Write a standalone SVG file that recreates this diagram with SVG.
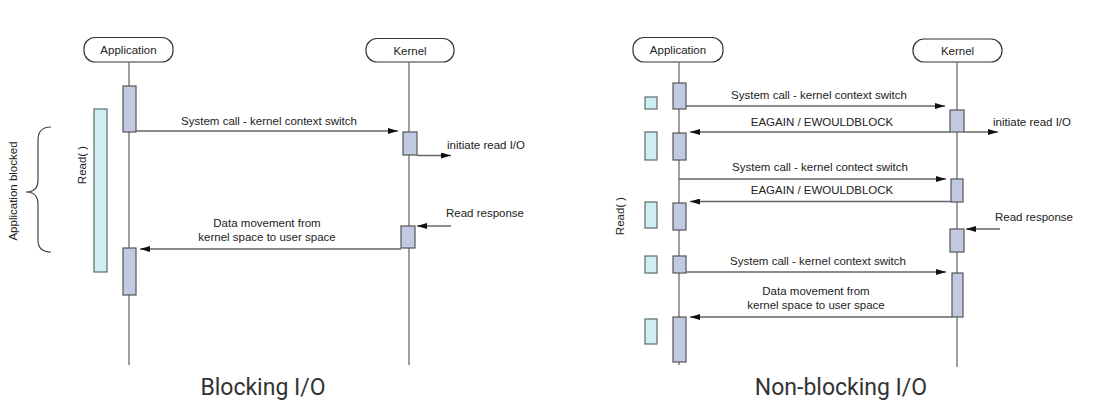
<svg xmlns="http://www.w3.org/2000/svg" width="1094" height="409" viewBox="0 0 1094 409">
<style>
text{font-family:"Liberation Sans",Arial,sans-serif;font-size:11.5px;fill:#222}
.title{font-family:Roboto,"Liberation Sans",sans-serif;font-size:23px;fill:#333}
.head{fill:#fff;stroke:#333;stroke-width:1.2}
.life{stroke:#777;stroke-width:1.4;fill:none}
.act{fill:#c2cae3;stroke:#555;stroke-width:1.2}
.blk{fill:#cdeef2;stroke:#5d6b6b;stroke-width:1.2}
.msg{stroke:#666;stroke-width:1.3;fill:none;marker-end:url(#ah)}
.mid{text-anchor:middle}
</style>
<defs>
<marker id="ah" viewBox="0 0 10 6" refX="10" refY="3" markerWidth="10" markerHeight="6" markerUnits="userSpaceOnUse" orient="auto">
<path d="M0,0 L10,3 L0,6 z" fill="#111"/>
</marker>
</defs>

<!-- Blocking I/O -->
<g id="b-app">
<rect class="head" x="84" y="37.5" width="89" height="24.5" rx="11"/>
<text class="mid" x="128.5" y="54">Application</text>
<line class="life" x1="129" y1="62" x2="129" y2="365"/>
</g>
<g id="b-kernel">
<rect class="head" x="366" y="38.5" width="88" height="23.5" rx="11"/>
<text class="mid" x="410" y="54.5">Kernel</text>
<line class="life" x1="409" y1="62" x2="409" y2="365"/>
</g>
<g id="b-read">
<rect class="blk" x="94" y="109" width="13" height="163"/>
<text transform="translate(86,165) rotate(-90)" class="mid">Read( )</text>
</g>
<g id="b-blocked">
<path d="M51,127 Q38,127 38,140 L38,180 Q38,192 26,192 Q38,192 38,204 L38,240 Q38,252 51,252" fill="none" stroke="#444" stroke-width="1.2"/>
<text transform="translate(17,191) rotate(-90)" class="mid">Application blocked</text>
</g>
<g id="b-acts">
<rect class="act" x="123" y="86" width="13" height="46"/>
<rect class="act" x="123" y="248" width="13" height="47"/>
<rect class="act" x="403" y="132" width="14" height="23"/>
<rect class="act" x="401" y="226" width="14" height="22"/>
</g>
<g id="b-connectors">
<line class="msg" x1="136" y1="131" x2="398" y2="131"/>
<line class="msg" x1="417" y1="155.5" x2="451" y2="155.5"/>
<line class="msg" x1="451" y1="226" x2="417" y2="226"/>
<line class="msg" x1="401" y1="249" x2="140" y2="249"/>
</g>
<g id="b-labels">
<text class="mid" x="269" y="125">System call - kernel context switch</text>
<text x="447" y="149">initiate read I/O</text>
<text x="446" y="217">Read response</text>
<text class="mid" x="267" y="227">Data movement from</text>
<text class="mid" x="267" y="241">kernel space to user space</text>
</g>
<text class="title mid" x="263" y="395">Blocking I/O</text>

<!-- Non-blocking I/O -->
<g id="n-app">
<rect class="head" x="633" y="37.5" width="90" height="24.5" rx="11"/>
<text class="mid" x="678" y="54">Application</text>
<line class="life" x1="679" y1="62" x2="679" y2="365"/>
</g>
<g id="n-kernel">
<rect class="head" x="913" y="39" width="89" height="23" rx="11"/>
<text class="mid" x="957.5" y="54.5">Kernel</text>
<line class="life" x1="957" y1="62" x2="957" y2="367"/>
</g>
<g id="n-read">
<rect class="blk" x="645" y="97" width="12" height="12"/>
<rect class="blk" x="645" y="132" width="12" height="28"/>
<rect class="blk" x="645" y="202" width="12" height="26"/>
<rect class="blk" x="645" y="256" width="12" height="17"/>
<rect class="blk" x="645" y="319" width="12" height="25"/>
<text transform="translate(624,216) rotate(-90)" class="mid">Read( )</text>
</g>
<g id="n-acts">
<rect class="act" x="673" y="83" width="13" height="26"/>
<rect class="act" x="673" y="133" width="13" height="27"/>
<rect class="act" x="673" y="203" width="13" height="27"/>
<rect class="act" x="673" y="256" width="13" height="17"/>
<rect class="act" x="673" y="317" width="13" height="45"/>
<rect class="act" x="950" y="110" width="14" height="22"/>
<rect class="act" x="951" y="179" width="12" height="23"/>
<rect class="act" x="950" y="229" width="14" height="23"/>
<rect class="act" x="952" y="273" width="11" height="44"/>
</g>
<g id="n-connectors">
<line class="msg" x1="686" y1="106" x2="945" y2="106"/>
<line class="msg" x1="950" y1="132" x2="690" y2="132"/>
<line class="msg" x1="964" y1="132" x2="998" y2="132"/>
<line class="msg" x1="679" y1="179" x2="946" y2="179"/>
<line class="msg" x1="951" y1="201.5" x2="690" y2="201.5"/>
<line class="msg" x1="1000" y1="229" x2="966" y2="229"/>
<line class="msg" x1="686" y1="272" x2="946" y2="272"/>
<line class="msg" x1="952" y1="317" x2="690" y2="317"/>
</g>
<g id="n-labels">
<text class="mid" x="819" y="99">System call - kernel context switch</text>
<text class="mid" x="822" y="126">EAGAIN / EWOULDBLOCK</text>
<text x="993" y="126">initiate read I/O</text>
<text class="mid" x="820" y="171">System call - kernel contect switch</text>
<text class="mid" x="822" y="194">EAGAIN / EWOULDBLOCK</text>
<text x="995" y="221">Read response</text>
<text class="mid" x="818" y="265">System call - kernel context switch</text>
<text class="mid" x="816" y="295">Data movement from</text>
<text class="mid" x="816" y="309">kernel space to user space</text>
</g>
<text class="title mid" x="841" y="395">Non-blocking I/O</text>
</svg>
